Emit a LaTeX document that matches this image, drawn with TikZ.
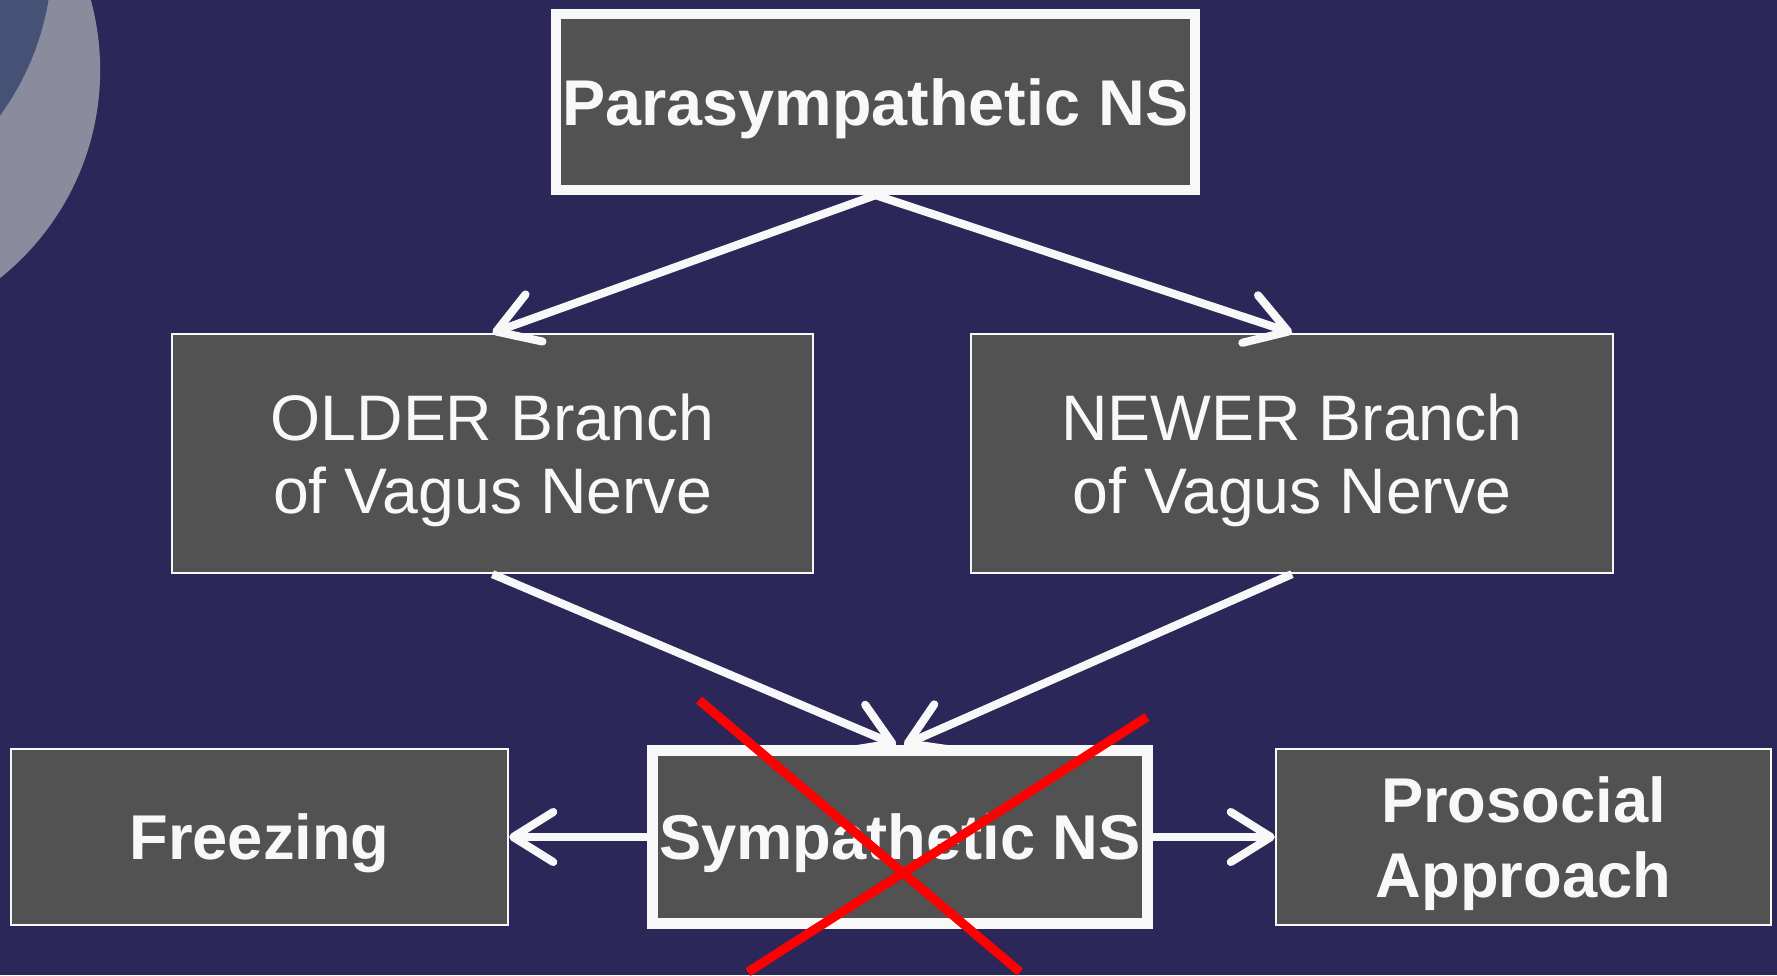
\documentclass[tikz,border=0pt]{standalone}
\usepackage{fontspec}
\setmainfont{Liberation Sans}
\usetikzlibrary{arrows.meta}

\definecolor{slide}{RGB}{43,40,89}
\definecolor{boxgray}{RGB}{82,82,82}
\definecolor{chalk}{RGB}{248,248,248}
\definecolor{ringlight}{RGB}{139,139,158}
\definecolor{ringdark}{RGB}{69,82,117}

\begin{document}
\begin{tikzpicture}[x=0.01cm,y=-0.01cm,>={Straight Barb[length=0.4cm,width=0.5cm,round]},
        branch/.style={draw=chalk,fill=boxgray,text=chalk,line width=0.6pt,inner sep=0pt,align=center,
            text depth=0pt,font=\fontsize{18.3}{20.8}\selectfont},
        outcome/.style={branch,font=\bfseries\fontsize{18}{21.4}\selectfont},
        system/.style={outcome,line width=2.9pt},
        arrow/.style={->,draw=chalk,line width=2.3pt},
        cross/.style={draw=red,line width=2.6pt}]
        \useasboundingbox (0,0) rectangle (1777,975);
        \fill[slide] (0,0) rectangle (1777,975);

        \begin{scope}
            \clip (0,0) rectangle (1777,975);
            \fill[ringlight] (-166,70) circle[radius=2.66cm];
            \fill[ringdark] (-221,-45) circle[radius=2.73cm];
        \end{scope}

        \node[system,minimum width=6.39cm,minimum height=1.76cm,font=\bfseries\fontsize{18.4}{22}\selectfont] (para) at (875.5,102) {Parasympathetic NS};

        \node[branch,minimum width=6.41cm,minimum height=2.39cm] (older) at (492.5,453.5) {OLDER Branch\\of Vagus Nerve};
        \node[branch,minimum width=6.42cm,minimum height=2.39cm] (newer) at (1292,453.5) {NEWER Branch\\of Vagus Nerve};

        \node[system,line width=3.1pt,minimum width=4.95cm,minimum height=1.73cm] (symp) at (900,837) {Sympathetic NS};
        \node[outcome,minimum width=4.97cm,minimum height=1.76cm] (freeze) at (259.5,837) {Freezing};
        \node[outcome,minimum width=4.95cm,minimum height=1.76cm] (approach) at (1523.5,837) {Prosocial\\Approach};

        \draw[arrow] (para.south) -- (older.north);
        \draw[arrow] (para.south) -- (newer.north);
        \draw[arrow] (older.south) -- ([xshift=-0.04cm]symp.north);
        \draw[arrow] (newer.south) -- ([xshift=0.04cm]symp.north);
        \draw[arrow] (symp.west) -- (freeze.east);
        \draw[arrow] (symp.east) -- (approach.west);

        \draw[cross] (699,700) -- (1020,972);
        \draw[cross] (1147,717) -- (748,972);

    \end{tikzpicture}
\end{document}
